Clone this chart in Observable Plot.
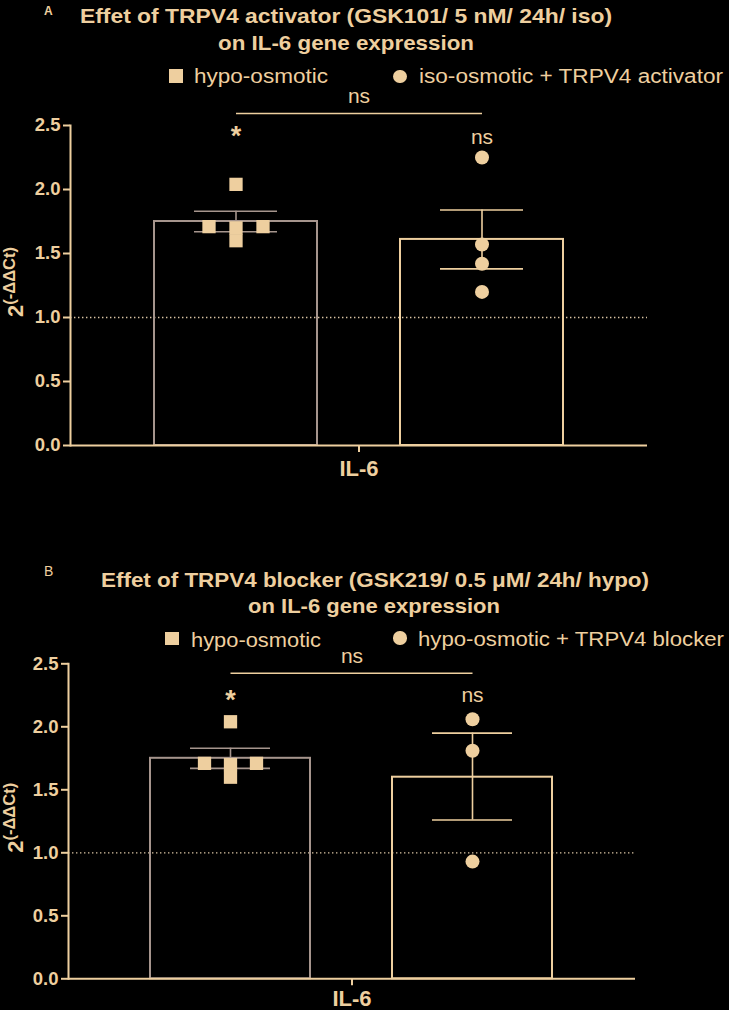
<!DOCTYPE html>
<html><head><meta charset="utf-8">
<script src="https://cdn.jsdelivr.net/npm/d3@7"></script>
<script src="https://cdn.jsdelivr.net/npm/@observablehq/plot@0.6"></script>
<style>
html,body{margin:0;padding:0;background:#000;}
#page{position:relative;width:729px;height:1010px;overflow:hidden;background:#000;font-family:"Liberation Sans",Arial,sans-serif;}
#page svg{position:absolute;left:0;z-index:1;}
.lbl{position:absolute;white-space:nowrap;line-height:1;color:#eecf9f;z-index:2;font-family:"Liberation Sans",Arial,sans-serif;}
.sw{position:absolute;background:#eecf9f;z-index:2;}
</style></head><body><div id="page"></div>
<script>
// ---------- data ----------
const gene = "IL-6";
const groupsA = ["hypo-osmotic", "iso-osmotic + TRPV4 activator"];
const groupsB = ["hypo-osmotic", "hypo-osmotic + TRPV4 blocker"];
const yTicks = [0, 0.5, 1.0, 1.5, 2.0, 2.5];
const referenceLine = 1.0;

const hypoValues = [2.04, 1.71, 1.70, 1.60, 1.71];
const hypoColumns = [0, -1, 0, 0, 1];
const activatorValues = [2.25, 1.57, 1.42, 1.20];
const blockerValues = [2.06, 1.81, 0.93];

const hypoMean = 1.75, hypoLo = 1.67, hypoHi = 1.83;
const activatorMean = 1.61, activatorLo = 1.38, activatorHi = 1.84;
const blockerMean = 1.60, blockerLo = 1.26, blockerHi = 1.95;

const titleA = ["Effet of TRPV4 activator (GSK101/ 5 nM/ 24h/ iso)", "on IL-6 gene expression"];
const titleB = ["Effet of TRPV4 blocker (GSK219/ 0.5 \u03bcM/ 24h/ hypo)", "on IL-6 gene expression"];

// significance annotations (y in data units)
const annotA = {sig: 2.594, nsTop: 2.674, star: 2.50, nsBar: 2.357};
const annotB = {sig: 2.425, nsTop: 2.505, star: 2.296, nsBar: 2.195};

// ---------- styles ----------
const tan = "#eecf9f";
const gray = "#a6958d";
const FONT = "'Liberation Sans', Arial, sans-serif";
const page = document.getElementById("page");

function label(txt, o) {
  const d = document.createElement("div");
  d.className = "lbl";
  d.textContent = txt;
  d.style.fontSize = o.fs + "px";
  d.style.fontWeight = o.weight || "normal";
  d.style.top = (o.baseline - 0.8465 * o.fs) + "px";
  page.appendChild(d);
  const w = d.getBoundingClientRect().width;
  const s = o.width ? o.width / w : 1;
  d.style.left = o.x + "px";
  d.style.transformOrigin = "0 0";
  d.style.transform = `scaleX(${s})`;
}
function swatch(cx, cy, size, round) {
  const d = document.createElement("div");
  d.className = "sw";
  Object.assign(d.style, {left: (cx - size/2) + "px", top: (cy - size/2) + "px", width: size + "px", height: size + "px", borderRadius: round ? "50%" : "0"});
  page.appendChild(d);
}

function panel(cfg) {
  const bars = cfg.groups.map((g, i) => ({gene, group: g, mean: cfg.means[i], lo: cfg.lo[i], hi: cfg.hi[i]}));
  const pts = [];
  cfg.values.forEach((vals, i) => vals.forEach((v, j) => pts.push({gene, group: cfg.groups[i], value: v, col: cfg.cols[i][j], gi: i})));
  const dots = [];
  [-1, 0, 1].forEach(c => cfg.groups.forEach((g, i) => {
    const sub = pts.filter(d => d.gi === i && d.col === c);
    if (sub.length) dots.push(Plot.dot(sub, {fx: "gene", x: "group", y: "value", symbol: i === 0 ? "square" : "circle", r: i === 0 ? 7.5 : 7, fill: tan, stroke: "none", dx: c * cfg.spread}));
  }));
  const a = cfg.annot;
  const svg = Plot.plot({
    width: 729, height: cfg.height,
    marginTop: cfg.mt, marginBottom: cfg.mb, marginLeft: cfg.ml, marginRight: cfg.mr,
    style: {background: "transparent", color: tan, fontFamily: FONT, overflow: "visible"},
    fx: {domain: [gene], padding: 0, label: null},
    x: {domain: cfg.groups, padding: 0.338, axis: null},
    y: {domain: [0, 2.5]},
    color: {domain: cfg.groups, range: [gray, tan]},
    marks: [
      Plot.ruleY([referenceLine], {stroke: "#dcc6a6", strokeWidth: 1.3, strokeDasharray: "1.4,2.6"}),
      Plot.barY(bars, {fx: "gene", x: "group", y: "mean", fill: "none", stroke: "group", strokeWidth: 2}),
      Plot.ruleX(bars, {fx: "gene", x: "group", y1: "lo", y2: "hi", stroke: "group", strokeWidth: 1.6}),
      Plot.tickY(bars, {fx: "gene", x: "group", y: "lo", stroke: "group", strokeWidth: 1.6, insetLeft: 40, insetRight: 40}),
      Plot.tickY(bars, {fx: "gene", x: "group", y: "hi", stroke: "group", strokeWidth: 1.6, insetLeft: 40, insetRight: 40}),
      ...dots,
      Plot.ruleY([0], {stroke: tan, strokeWidth: 2}),
      Plot.frame({anchor: "left", stroke: tan, strokeWidth: 2}),
      Plot.axisY({ticks: yTicks, tickFormat: d3.format(".1f"), tickSize: 7, tickPadding: 3, fontSize: 18.5, fontWeight: "bold", stroke: tan, fill: tan, strokeWidth: 2, label: null}),
      Plot.axisFx({anchor: "bottom", tickSize: 7, tickPadding: cfg.fxPad, fontSize: 22, fontWeight: "bold", stroke: tan, fill: tan, strokeWidth: 2, label: null}),
      Plot.link([a], {x1: () => cfg.groups[0], x2: () => cfg.groups[1], y1: "sig", y2: "sig", stroke: tan, strokeWidth: 1.6}),
      Plot.text([a], {y: "nsTop", text: () => "ns", fontSize: 21, lineAnchor: "bottom", fill: tan, frameAnchor: "middle"}),
      Plot.text([a], {x: () => cfg.groups[0], y: "star", text: () => "*", fontSize: 27, fontWeight: "bold", lineAnchor: "top", fill: tan}),
      Plot.text([a], {x: () => cfg.groups[1], y: "nsBar", text: () => "ns", fontSize: 21, lineAnchor: "bottom", fill: tan})
    ]
  });
  svg.style.top = cfg.top + "px";
  // y-axis title 2^(-ΔΔCt)
  const cy = (cfg.mt + cfg.height - cfg.mb) / 2 - 3;
  const t = d3.select(svg).append("text")
    .attr("transform", `translate(23,${cy}) rotate(-90)`)
    .attr("text-anchor", "middle").attr("fill", tan)
    .attr("font-family", FONT).attr("font-weight", "bold");
  t.append("tspan").attr("font-size", 22).text("2");
  t.append("tspan").attr("font-size", 16.5).attr("dy", -8).text("(-\u0394\u0394Ct)");
  page.appendChild(svg);
}

panel({
  top: 0, height: 500, mt: 125, mb: 55, ml: 70, mr: 82, fxPad: 8, spread: 27,
  groups: groupsA, means: [hypoMean, activatorMean], lo: [hypoLo, activatorLo], hi: [hypoHi, activatorHi],
  values: [hypoValues, activatorValues], cols: [hypoColumns, activatorValues.map(() => 0)], annot: annotA
});
panel({
  top: 540, height: 470, mt: 123.3, mb: 31.7, ml: 68, mr: 94, fxPad: 5, spread: 26,
  groups: groupsB, means: [hypoMean, blockerMean], lo: [hypoLo, blockerLo], hi: [hypoHi, blockerHi],
  values: [hypoValues, blockerValues], cols: [hypoColumns, blockerValues.map(() => 0)], annot: annotB
});

// ---------- titles & legends ----------
label("A", {x: 44, baseline: 15.5, fs: 12, weight: "bold"});
label(titleA[0], {x: 80, baseline: 22.7, fs: 21, weight: "bold", width: 532});
label(titleA[1], {x: 218, baseline: 50, fs: 21, weight: "bold", width: 256});
swatch(176, 76, 13.3, false);
label(groupsA[0], {x: 194, baseline: 82.7, fs: 20, width: 134});
swatch(400, 76.5, 13.3, true);
label(groupsA[1], {x: 419, baseline: 82.7, fs: 20, width: 304});

label("B", {x: 44, baseline: 576, fs: 14});
label(titleB[0], {x: 101, baseline: 586.7, fs: 20, weight: "bold", width: 548});
label(titleB[1], {x: 248, baseline: 612.7, fs: 20, weight: "bold", width: 252});
swatch(172, 638.5, 13.3, false);
label(groupsB[0], {x: 191, baseline: 646.7, fs: 20, width: 130});
swatch(400, 638, 13.3, true);
label(groupsB[1], {x: 418, baseline: 646.3, fs: 20, width: 306});
</script></body></html>
